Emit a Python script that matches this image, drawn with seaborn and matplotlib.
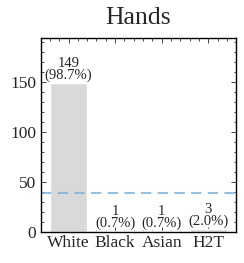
import matplotlib
matplotlib.use("Agg")
import matplotlib.pyplot as plt
import seaborn as sns
import pandas as pd
from matplotlib.ticker import AutoMinorLocator, MultipleLocator

categories = ["White", "Black", "Asian", "H2T"]
counts = [149, 1, 1, 3]
percents = ["98.7%", "0.7%", "0.7%", "2.0%"]
ref_line = 39
title = "Hands"

sns.set_style("ticks")
plt.rcParams["font.family"] = ["Liberation Serif", "DejaVu Serif"]
plt.rcParams["mathtext.fontset"] = "stix"

df = pd.DataFrame({"cat": categories, "n": counts})

fig = plt.figure(figsize=(2.44, 2.63), dpi=100)
ax = fig.add_axes([0.168, 0.118, 0.799, 0.738])
sns.barplot(data=df, x="cat", y="n", color="#d9d9d9", saturation=1, width=0.8, ax=ax)
ax.set_xlim(-0.59, 3.59)
ax.set_ylim(0, max(counts) * 1.3)
ax.axhline(ref_line, color="#7fb0d6", ls=(0, (5, 3)), lw=1.5, alpha=0.8)

for i, (c, p) in enumerate(zip(counts, percents)):
    ax.text(i, c + 0.5, f"{c}\n({p})", ha="center", va="bottom", fontsize=10.5, linespacing=0.9)

ax.set_xlabel("")
ax.set_ylabel("")
ax.set_title(title, fontsize=18.5, pad=10)
ax.yaxis.set_major_locator(MultipleLocator(50))
ax.yaxis.set_minor_locator(AutoMinorLocator(5))
ax.xaxis.set_minor_locator(AutoMinorLocator(5))
ax.tick_params(which="both", direction="in", top=True, right=True)
ax.tick_params(which="major", length=3.5, width=0.6)
ax.tick_params(which="minor", length=1.8, width=0.6)
ax.tick_params(axis="both", labelsize=12.5)
ax.tick_params(axis="x", pad=2)
for s in ax.spines.values():
    s.set_linewidth(1.0)
    s.set_color("black")

fig.savefig("out.png", dpi=100)
